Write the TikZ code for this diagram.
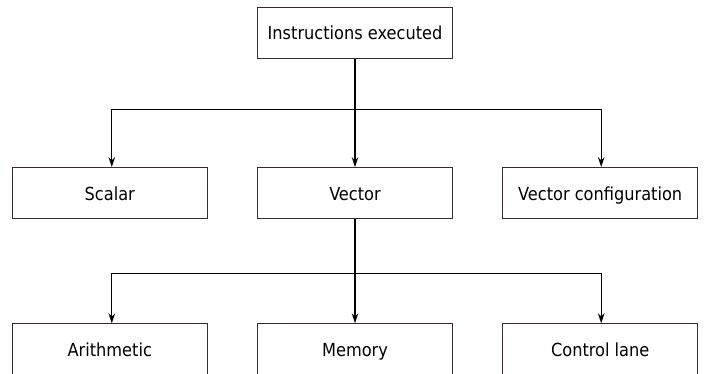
\documentclass[tikz,border=0pt]{standalone}
\usepackage{fontspec}
\setmainfont{DejaVu Sans Condensed}
\usetikzlibrary{positioning,arrows.meta}
\definecolor{boxline}{RGB}{62,42,42}

\begin{document}
\begin{tikzpicture}
    [
    x=1pt,y=1pt,
    box/.style={draw=boxline,line width=1.2pt,minimum width=195pt,minimum height=51pt,
      inner sep=0pt,text height=14pt,text depth=0pt,font=\fontsize{18}{20}\selectfont},
    link/.style={-{Stealth[length=10pt,width=6.5pt]},line width=1.1pt},
    ]
    \useasboundingbox (0,0) rectangle (715,374);

    \node[box] (instr) at (355,341) {Instructions executed};
    % second row
    \node[box,below=108pt of instr] (vector) {Vector};
    \node[box,left=49pt of vector] (scalar) {Scalar};
    \node[box,right=49pt of vector] (vconfig) {Vector configuration};
    % third row
    \node[box,below=104pt of vector] (memory) {Memory};
    \node[box,left=49pt of memory] (arith) {Arithmetic};
    \node[box,right=49pt of memory] (ctrllane) {Control lane};

    % fork below the top box
    \draw[link] (instr) -- (vector);
    \draw[link] (instr.south) -- ++(0,-50) -| ([xshift=2pt]scalar.north);
    \draw[link] (instr.south) -- ++(0,-50) -| ([xshift=1pt]vconfig.north);
    % fork below the vector box
    \draw[link] (vector) -- (memory);
    \draw[link] (vector.south) -- ++(0,-54) -| ([xshift=2pt]arith.north);
    \draw[link] (vector.south) -- ++(0,-54) -| ([xshift=1pt]ctrllane.north);
  \end{tikzpicture}
\end{document}
